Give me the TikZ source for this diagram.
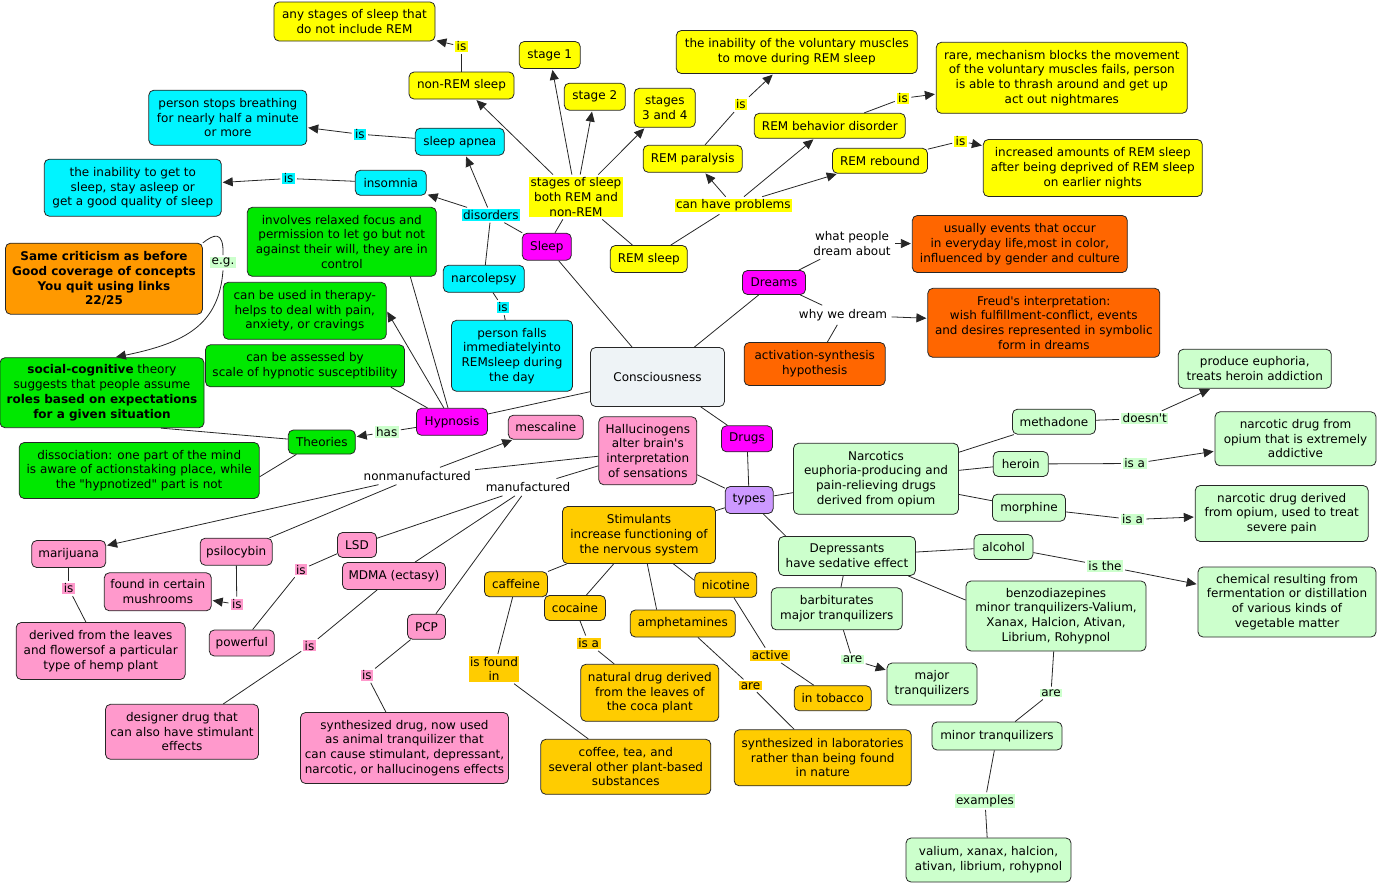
\documentclass[tikz,border=0pt]{standalone}
\usepackage{fontspec}
\newfontfamily\dvs{DejaVu Sans}
\usetikzlibrary{arrows.meta}
\newcommand\myfs{\dvs\fontsize{12pt}{14.7pt}\selectfont}
\definecolor{cYel}{HTML}{FFFF00}
\definecolor{cCya}{HTML}{00F4FF}
\definecolor{cMag}{HTML}{FF00FF}
\definecolor{cGrn}{HTML}{00E800}
\definecolor{cOrR}{HTML}{FF6600}
\definecolor{cOrA}{HTML}{FF9900}
\definecolor{cGold}{HTML}{FFCC00}
\definecolor{cPink}{HTML}{FF99CC}
\definecolor{cLgr}{HTML}{CCFFCC}
\definecolor{cPur}{HTML}{CC99FF}
\definecolor{cCon}{HTML}{EEF3F6}
\tikzset{
  every node/.style={font=\myfs},
  cbox/.style={draw=black!85, line width=0.8pt, rounded corners=5pt, align=center, inner sep=1pt},
  sz/.style 2 args={minimum width=#1pt, minimum height=#2pt},
  yel/.style={cbox, fill=cYel}, cya/.style={cbox, fill=cCya}, mag/.style={cbox, fill=cMag},
  grn/.style={cbox, fill=cGrn}, orr/.style={cbox, fill=cOrR}, ora/.style={cbox, fill=cOrA},
  gold/.style={cbox, fill=cGold}, pink/.style={cbox, fill=cPink}, lgr/.style={cbox, fill=cLgr},
  pur/.style={cbox, fill=cPur}, con/.style={cbox, fill=cCon},
  lab/.style={inner xsep=1.5pt, inner ysep=1pt, outer sep=2pt, align=center},
  ylab/.style={lab, fill=cYel}, clab/.style={lab, fill=cCya}, glab/.style={lab, fill=cLgr},
  plab/.style={lab, fill=cPink}, olab/.style={lab, fill=cGold}, wlab/.style={lab, outer sep=3pt},
  ln/.style={draw=black!85, line width=0.8pt},
  ar/.style={ln, -{Triangle[length=10pt,width=9pt]}, shorten >=1pt},
}
\begin{document}
\begin{tikzpicture}[x=1pt,y=-1pt]
\useasboundingbox (0,0) rectangle (1383,887);
% ---------- Sleep ----------
\node[yel, sz={161}{39}] (nonremdef) at (354.5,21.5) {any stages of sleep that\\do not include REM};
\node[yel, sz={105}{27}] (nonrem) at (461.5,85.5) {non-REM sleep};
\node[yel, sz={61}{27}] (stage1) at (549.7,55) {stage 1};
\node[yel, sz={61}{27}] (stage2) at (594.8,96.7) {stage 2};
\node[yel, sz={61}{39}] (stage34) at (664.8,107.8) {stages\\3 and 4};
\node[yel, sz={241}{43}] (paraldef) at (796.8,52) {the inability of the voluntary muscles\\to move during REM sleep};
\node[yel, sz={99}{27}] (remparalysis) at (692.7,158.8) {REM paralysis};
\node[yel, sz={151}{25}] (rbd) at (829.8,125.8) {REM behavior disorder};
\node[yel, sz={95}{25}] (remrebound) at (880,160.8) {REM rebound};
\node[yel, sz={251}{71}] (rbddef) at (1061.8,77.8) {rare, mechanism blocks the movement\\of the voluntary muscles fails, person\\is able to thrash around and get up\\act out nightmares};
\node[yel, sz={219}{57}] (rebounddef) at (1092.8,168) {increased amounts of REM sleep\\after being deprived of REM sleep\\on earlier nights};
\node[yel, sz={77}{27}] (remsleep) at (648.8,259) {REM sleep};
\node[ylab] (l1) at (461.5,46.5) {is};
\node[ylab] (stagesof) at (576,197) {stages of sleep\\both REM and\\non-REM};
\node[ylab] (canhave) at (733.3,205.5) {can have problems};
\node[ylab] (lpar) at (740.8,104.5) {is};
\node[ylab] (lrbd) at (903,98.3) {is};
\node[ylab] (lreb) at (960.5,141.2) {is};
\node[cya, sz={158}{55}] (apneadef) at (227.8,117.7) {person stops breathing\\for nearly half a minute\\or more};
\node[cya, sz={89}{27}] (sleepapnea) at (459.8,141.7) {sleep apnea};
\node[cya, sz={71}{25}] (insomnia) at (390.8,182.8) {insomnia};
\node[cya, sz={177}{57}] (insomniadef) at (132.8,187.7) {the inability to get to\\sleep, stay asleep or\\get a good quality of sleep};
\node[cya, sz={81}{27}] (narcolepsy) at (483.8,278.8) {narcolepsy};
\node[cya, sz={121}{71}] (narcodef) at (512,355.8) {person falls\\immediatelyinto\\REMsleep during\\the day};
\node[clab] (lapnea) at (359.8,134.2) {is};
\node[clab] (lins) at (288.7,178.5) {is};
\node[clab] (disorders) at (490.8,215) {disorders};
\node[clab] (lnarc) at (502.8,307.5) {is};
\node[mag, sz={49}{27}] (sleep) at (546.8,246.7) {Sleep};
% ---------- Center ----------
\node[con, sz={134}{59}] (consc) at (657.5,377) {Consciousness};
% ---------- Dreams ----------
\node[mag, sz={63}{24}] (dreams) at (774,282.5) {Dreams};
\node[wlab] (lwhat) at (852,243.3) {what people\\dream about};
\node[orr, sz={215}{57}] (dreamdef) at (1019.8,244) {usually events that occur\\in everyday life,most in color,\\influenced by gender and culture};
\node[wlab] (lwhy) at (843,315) {why we dream};
\node[orr, sz={232}{69}] (freud) at (1043.8,322.8) {Freud's interpretation:\\wish fulfillment-conflict, events\\and desires represented in symbolic\\form in dreams};
\node[orr, sz={141}{43}] (actsyn) at (814.7,364) {activation-synthesis\\hypothesis};
% ---------- Hypnosis ----------
\node[mag, sz={71}{27}] (hypnosis) at (452,421.8) {Hypnosis};
\node[grn, sz={189}{69}] (relaxed) at (341.8,241.8) {involves relaxed focus and\\permission to let go but not\\against their will, they are in\\control};
\node[grn, sz={163}{57}] (therapy) at (304.8,310.8) {can be used in therapy-\\helps to deal with pain,\\anxiety, or cravings};
\node[grn, sz={199}{42}] (assessed) at (305,365.8) {can be assessed by\\scale of hypnotic susceptibility};
\node[ora, sz={197}{71}, font=\myfs\bfseries] (criticism) at (104,278.7) {Same criticism as before\\Good coverage of concepts\\You quit using links\\22/25};
\node[grn, sz={204}{70}] (socialcog) at (102,392.7) {\textbf{social-cognitive} theory\\suggests that people assume\\\textbf{roles based on expectations}\\\textbf{for a given situation}};
\node[grn, sz={67}{24}] (theories) at (321.8,442) {Theories};
\node[grn, sz={240}{56}] (dissoc) at (139.2,470.5) {dissociation: one part of the mind\\is aware of actionstaking place, while\\the "hypnotized" part is not};
\node[glab] (lhas) at (386.7,432) {has};
\node[glab] (leg) at (223,262.8) {e.g.};
% ---------- Drugs ----------
\node[mag, sz={51}{26}] (drugs) at (747,438.8) {Drugs};
\node[pur, sz={48}{27}] (types) at (749.2,500) {types};
\node[pink, sz={98}{68}] (halluc) at (647.8,450.8) {Hallucinogens\\alter brain's\\interpretation\\of sensations};
\node[pink, sz={75}{24}] (mescaline) at (545.8,427.2) {mescaline};
\node[wlab] (lnonman) at (417.2,476) {nonmanufactured};
\node[wlab] (lman) at (528,487.2) {manufactured};
\node[pink, sz={74}{27}] (marijuana) at (68.7,554) {marijuana};
\node[pink, sz={169}{57}] (mjdef) at (100.7,651) {derived from the leaves\\and flowersof a particular\\type of hemp plant};
\node[pink, sz={72}{27}] (psilocybin) at (236.2,551.7) {psilocybin};
\node[pink, sz={107}{38}] (found) at (157.8,591.8) {found in certain\\mushrooms};
\node[pink, sz={39}{25}] (lsd) at (357,545) {LSD};
\node[pink, sz={65}{26}] (powerful) at (241.8,643) {powerful};
\node[pink, sz={103}{27}] (mdma) at (394,576) {MDMA (ectasy)};
\node[pink, sz={153}{55}] (designer) at (182,731.8) {designer drug that\\can also have stimulant\\effects};
\node[pink, sz={38}{25}] (pcp) at (426.5,626.7) {PCP};
\node[pink, sz={208}{71}] (pcpdef) at (404.5,748) {synthesized drug, now used\\as animal tranquilizer that\\can cause stimulant, depressant,\\narcotic, or hallucinogens effects};
\node[plab] (lmj) at (68.7,588.5) {is};
\node[plab] (lpsil) at (236.8,604.3) {is};
\node[plab] (llsd) at (300.8,569.7) {is};
\node[plab] (lmdma) at (309.5,645.7) {is};
\node[plab] (lpcp) at (366.8,675.2) {is};
\node[gold, sz={153}{57}] (stimulants) at (639,535) {Stimulants\\increase functioning of\\the nervous system};
\node[gold, sz={63}{25}] (caffeine) at (516,584.2) {caffeine};
\node[gold, sz={61}{25}] (cocaine) at (575,608) {cocaine};
\node[gold, sz={105}{27}] (amph) at (682.8,623.5) {amphetamines};
\node[gold, sz={62}{25}] (nicotine) at (725.8,584.8) {nicotine};
\node[gold, sz={138}{57}] (cocadef) at (649.8,692.8) {natural drug derived\\from the leaves of\\the coca plant};
\node[gold, sz={177}{56}] (synth) at (822.7,757.8) {synthesized in laboratories\\rather than being found\\in nature};
\node[gold, sz={77}{25}] (intobacco) at (832.7,698.2) {in tobacco};
\node[gold, sz={170}{55}] (coffee) at (625.8,766.8) {coffee, tea, and\\several other plant-based\\substances};
\node[olab] (lcaf) at (494,668.8) {is found\\in};
\node[olab] (lcoc) at (588.7,643.2) {is a};
\node[olab] (lamph) at (750.5,685.8) {are};
\node[olab] (lnic) at (770,655.3) {active};
\node[lgr, sz={165}{71}] (narcotics) at (876,478.8) {Narcotics\\euphoria-producing and\\pain-relieving drugs\\derived from opium};
\node[lgr, sz={83}{25}] (methadone) at (1054,421.7) {methadone};
\node[lgr, sz={153}{39}] (euphoria) at (1254.8,368.8) {produce euphoria,\\treats heroin addiction};
\node[lgr, sz={55}{25}] (heroin) at (1020.8,464) {heroin};
\node[lgr, sz={161}{54}] (heroindef) at (1295.5,438.8) {narcotic drug from\\opium that is extremely\\addictive};
\node[lgr, sz={73}{27}] (morphine) at (1029,507.7) {morphine};
\node[lgr, sz={173}{56}] (morphdef) at (1281.7,513.5) {narcotic drug derived\\from opium, used to treat\\severe pain};
\node[lgr, sz={137}{39}] (depressants) at (847,556) {Depressants\\have sedative effect};
\node[lgr, sz={131}{42}] (barbiturates) at (836.8,608.8) {barbiturates\\major tranquilizers};
\node[lgr, sz={90}{42}] (major) at (932,684) {major\\tranquilizers};
\node[lgr, sz={59}{25}] (alcohol) at (1003.5,547) {alcohol};
\node[lgr, sz={178}{70}] (chemdef) at (1287,602) {chemical resulting from\\fermentation or distillation\\of various kinds of\\vegetable matter};
\node[lgr, sz={180}{70}] (benzo) at (1056,616) {benzodiazepines\\minor tranquilizers-Valium,\\Xanax, Halcion, Ativan,\\Librium, Rohypnol};
\node[lgr, sz={130}{28}] (minor) at (997,736) {minor tranquilizers};
\node[lgr, sz={165}{44}] (valium) at (988.5,860) {valium, xanax, halcion,\\ativan, librium, rohypnol};
\node[glab] (ldoesnt) at (1144.8,418.5) {doesn't};
\node[glab] (lher) at (1134.7,463.5) {is a};
\node[glab] (lmor) at (1132.5,519.5) {is a};
\node[glab] (lalc) at (1105,566) {is the};
\node[glab] (lbarb) at (852.5,659.7) {are};
\node[glab] (lbenzo) at (1051,693) {are};
\node[glab] (lex) at (985,801) {examples};
% ---------- Connectors: sleep ----------
\draw[ln] (nonrem) -- (l1);
\draw[ar] (l1) -- (nonremdef);
\draw[ln] (sleep) -- (stagesof);
\draw[ar] (stagesof) -- (nonrem);
\draw[ar] (stagesof) -- (stage1);
\draw[ar] (stagesof) -- (stage2);
\draw[ar] (stagesof) -- (stage34);
\draw[ln] (stagesof) -- (remsleep);
\draw[ln] (remsleep) -- (canhave);
\draw[ar] (canhave) -- (remparalysis);
\draw[ar] (canhave) -- (rbd);
\draw[ar] (canhave) -- (remrebound);
\draw[ln] (remparalysis) -- (lpar);
\draw[ar] (lpar) -- (paraldef);
\draw[ln] (rbd) -- (lrbd);
\draw[ar] (lrbd) -- (rbddef);
\draw[ln] (remrebound) -- (lreb);
\draw[ar] (lreb) -- (rebounddef);
\draw[ln] (sleep) -- (disorders);
\draw[ar] (disorders) -- (sleepapnea);
\draw[ar] (disorders) -- (insomnia);
\draw[ln] (disorders) -- (narcolepsy);
\draw[ln] (sleepapnea) -- (lapnea);
\draw[ar] (lapnea) -- (apneadef);
\draw[ln] (insomnia) -- (lins);
\draw[ar] (lins) -- (insomniadef);
\draw[ln] (narcolepsy) -- (lnarc);
\draw[ln] (lnarc) -- (narcodef);
\draw[ln] (consc) -- (sleep);
% ---------- dreams ----------
\draw[ln] (consc) -- (dreams);
\draw[ln] (dreams) -- (lwhat);
\draw[ar] (lwhat) -- (dreamdef);
\draw[ln] (dreams) -- (lwhy);
\draw[ar] (lwhy) -- (freud);
\draw[ln] (lwhy) -- (actsyn);
% ---------- hypnosis ----------
\draw[ln] (consc) -- (hypnosis);
\draw[ln] (hypnosis) -- (relaxed.-27);
\draw[ar] (hypnosis) -- (therapy.east);
\draw[ln] (hypnosis) -- (assessed.-14);
\draw[ln] (hypnosis) -- (lhas);
\draw[ar] (lhas) -- (theories);
\draw[ln] (theories) -- (socialcog.-31);
\draw[ln] (theories.206) -- (dissoc.-3);
\draw[ln] (criticism.north east) .. controls (213,235) and (224,229) .. (leg.north);
\draw[ar] (leg.south) .. controls (219,325) and (185,343) .. (socialcog.70);
% ---------- drugs ----------
\draw[ln] (consc) -- (drugs);
\draw[ln] (drugs) -- (types);
\draw[ln] (types) -- (halluc);
\draw[ln] (types) -- (stimulants);
\draw[ln] (types) -- (narcotics);
\draw[ln] (types) -- (depressants.162);
\draw[ln] (halluc) -- (lnonman);
\draw[ln] (halluc) -- (lman);
\draw[ar] (lnonman) -- (mescaline);
\draw[ar] (lnonman) -- (marijuana);
\draw[ln] (lnonman) -- (psilocybin);
\draw[ln] (lman) -- (lsd);
\draw[ln] (lman) -- (mdma);
\draw[ln] (lman) -- (pcp);
\draw[ln] (marijuana) -- (lmj);
\draw[ln] (lmj) -- (mjdef);
\draw[ln] (psilocybin) -- (lpsil);
\draw[ar] (lpsil) -- (found);
\draw[ln] (lsd) -- (llsd);
\draw[ln] (llsd) -- (powerful);
\draw[ln] (mdma) -- (lmdma);
\draw[ln] (lmdma) -- (designer);
\draw[ln] (pcp) -- (lpcp);
\draw[ln] (lpcp) -- (pcpdef);
\draw[ln] (stimulants) -- (caffeine);
\draw[ln] (caffeine) -- (lcaf);
\draw[ln] (lcaf) -- (coffee);
\draw[ln] (stimulants) -- (cocaine);
\draw[ln] (cocaine) -- (lcoc);
\draw[ln] (lcoc) -- (cocadef);
\draw[ln] (stimulants.-74) -- (amph.152);
\draw[ln] (amph) -- (lamph);
\draw[ln] (lamph) -- (synth);
\draw[ln] (stimulants.-40) -- (nicotine.172);
\draw[ln] (nicotine) -- (lnic);
\draw[ln] (lnic) -- (intobacco);
\draw[ln] (narcotics) -- (methadone);
\draw[ln] (narcotics) -- (heroin);
\draw[ln] (narcotics) -- (morphine);
\draw[ln] (methadone) -- (ldoesnt);
\draw[ar] (ldoesnt) -- (euphoria);
\draw[ln] (heroin) -- (lher);
\draw[ar] (lher) -- (heroindef);
\draw[ln] (morphine) -- (lmor);
\draw[ar] (lmor) -- (morphdef);
\draw[ln] (depressants) -- (alcohol);
\draw[ln] (alcohol) -- (lalc);
\draw[ar] (lalc) -- (chemdef);
\draw[ln] (depressants) -- (barbiturates);
\draw[ln] (barbiturates) -- (lbarb);
\draw[ar] (lbarb) -- (major);
\draw[ln] (depressants.-18) -- (benzo.170);
\draw[ln] (benzo) -- (lbenzo);
\draw[ln] (lbenzo) -- (minor);
\draw[ln] (minor) -- (lex);
\draw[ln] (lex) -- (valium);
\end{tikzpicture}
\end{document}
